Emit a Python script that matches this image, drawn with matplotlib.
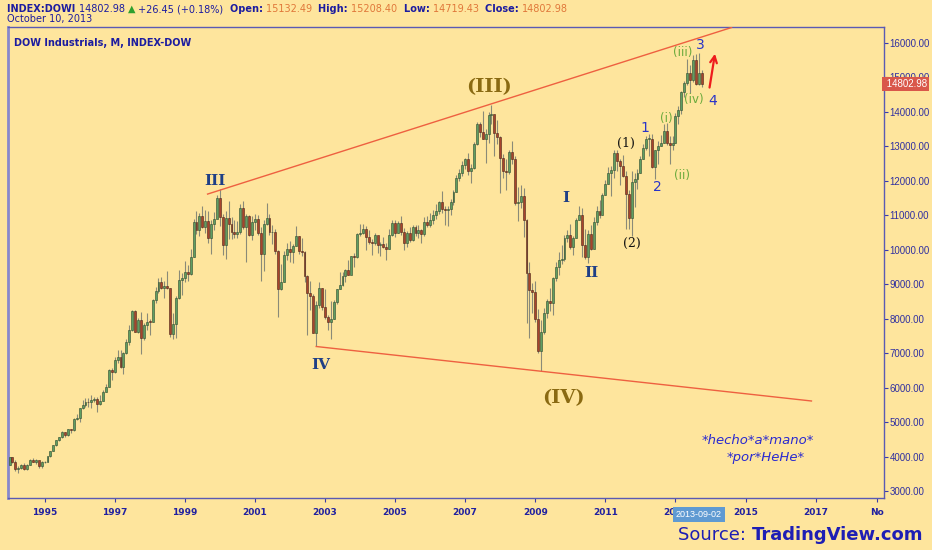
import numpy as np
import matplotlib
matplotlib.use("Agg")
import matplotlib.pyplot as plt

# Monthly DOW candles, Jan 1994 .. Oct 2013
FIRST_OPEN = 3754
LAST_OPEN = 15132.49
closes = [
    3978, 3832, 3636, 3681, 3758, 3625, 3765, 3913, 3843, 3908, 3739, 3834,
    3843, 4011, 4158, 4321, 4465, 4556, 4708, 4610, 4789, 4756, 5075, 5117,
    5395, 5486, 5587, 5569, 5643, 5655, 5529, 5616, 5882, 6029, 6522, 6448,
    6813, 6878, 6584, 7009, 7331, 7673, 8223, 7622, 7945, 7442, 7823, 7908,
    7907, 8546, 8800, 9063, 8900, 8952, 8883, 7539, 7843, 8592, 9117, 9181,
    9359, 9307, 9786, 10789, 10560, 10971, 10655, 10829, 10337, 10729, 10878, 11497,
    10941, 10128, 10922, 10734, 10522, 10448, 10522, 11215, 10651, 10971, 10415, 10787,
    10887, 10495, 9879, 10735, 10912, 10502, 10523, 9950, 8848, 9075, 9852, 10022,
    9920, 10106, 10404, 9946, 9925, 9243, 8737, 8664, 7592, 8397, 8896, 8342,
    8054, 7891, 7992, 8480, 8850, 8985, 9234, 9416, 9275, 9801, 9782, 10454,
    10488, 10584, 10358, 10226, 10188, 10435, 10140, 10174, 10080, 10027, 10428, 10783,
    10490, 10766, 10504, 10193, 10467, 10275, 10641, 10482, 10569, 10440, 10806, 10718,
    10865, 10993, 11109, 11367, 11168, 11150, 11186, 11381, 11679, 12081, 12222, 12463,
    12622, 12269, 12354, 13063, 13628, 13409, 13212, 13358, 13896, 13930, 13372, 13265,
    12650, 12266, 12263, 12820, 12638, 11350, 11378, 11544, 10851, 9325, 8829, 8776,
    8001, 7063, 7609, 8168, 8500, 8447, 9172, 9496, 9712, 9713, 10345, 10428,
    10067, 10325, 10857, 11009, 10137, 9774, 10466, 10015, 10788, 11118, 11006, 11578,
    11892, 12226, 12320, 12811, 12570, 12414, 12143, 11614, 10913, 11955, 12046, 12218,
    12633, 12952, 13212, 13214, 12393, 12880, 13009, 13091, 13437, 13096, 13026, 13104,
    13861, 14054, 14579, 14840, 15116, 14910, 15500, 14810, 15130, 14803,
]
highs = [
    3990, 3980, 3900, 3720, 3770, 3800, 3770, 3920, 3960, 3940, 3880, 3860,
    3880, 4020, 4170, 4330, 4470, 4580, 4730, 4720, 4800, 4800, 5110, 5220,
    5400, 5640, 5690, 5690, 5780, 5730, 5730, 5780, 5920, 6100, 6550, 6580,
    6880, 7080, 7100, 7030, 7400, 7800, 8260, 8260, 8020, 8180, 7880, 8150,
    7980, 8580, 8930, 9190, 9210, 9080, 9370, 8880, 8160, 8650, 9400, 9320,
    9670, 9550, 10010, 10880, 11110, 11070, 11250, 11150, 11130, 10850, 11090, 11570,
    11750, 11040, 11130, 11420, 10940, 10860, 10840, 11330, 11400, 11020, 11000, 10980,
    11020, 11000, 10650, 10860, 11350, 11020, 10700, 10600, 10000, 9580, 9960, 10200,
    10260, 10160, 10670, 10400, 10350, 9960, 9260, 9080, 8700, 8520, 9050, 8900,
    8870, 8110, 8520, 8530, 8870, 9350, 9340, 9430, 9690, 9820, 9890, 10480,
    10750, 10750, 10680, 10570, 10320, 10480, 10350, 10230, 10370, 10180, 10600, 10870,
    10870, 10840, 10960, 10620, 10530, 10650, 10700, 10720, 10700, 10590, 10940, 10960,
    11050, 11140, 11330, 11420, 11710, 11250, 11250, 11470, 11730, 12160, 12350, 12580,
    12660, 12800, 12470, 13120, 13690, 13700, 14020, 13500, 14000, 14200, 13900, 13750,
    13280, 12770, 12620, 12900, 13140, 12700, 11810, 11870, 11790, 10880, 9650, 9030,
    9090, 8280, 7950, 8300, 8580, 8880, 9200, 9630, 9920, 10120, 10410, 10580,
    10730, 10400, 10910, 11260, 11210, 10600, 10580, 10720, 10950, 11250, 11450, 11650,
    12020, 12400, 12420, 12900, 12880, 12640, 12750, 12280, 11720, 12280, 12230, 12330,
    12720, 13050, 13290, 13340, 13340, 12900, 13150, 13330, 13650, 13660, 13290, 13290,
    13970, 14150, 14590, 14890, 15540, 15340, 15640, 15660, 15710, 15208,
]
lows = [
    3750, 3800, 3590, 3520, 3630, 3610, 3610, 3740, 3830, 3780, 3670, 3680,
    3800, 3830, 3980, 4150, 4300, 4440, 4550, 4570, 4600, 4680, 4740, 5050,
    5000, 5370, 5440, 5450, 5420, 5570, 5300, 5500, 5600, 5880, 6010, 6220,
    6420, 6720, 6560, 6390, 6980, 7230, 7640, 7600, 7580, 6970, 7380, 7660,
    7530, 7890, 8450, 8740, 8850, 8600, 8850, 7480, 7400, 7450, 8560, 8690,
    9060, 9100, 9250, 9780, 10440, 10400, 10640, 10480, 10200, 9880, 10580, 10940,
    10680, 9830, 9730, 10300, 10300, 10340, 10350, 10460, 10600, 9650, 10380, 10280,
    10570, 10430, 9100, 9390, 10700, 10420, 10170, 9880, 8060, 8830, 9060, 9700,
    9640, 9610, 10090, 9860, 9800, 9070, 7530, 8250, 7580, 7200, 8300, 8240,
    7990, 7670, 7420, 7990, 8430, 8850, 8940, 9070, 9260, 9370, 9500, 9750,
    10400, 10460, 10000, 10170, 9850, 10120, 9900, 9800, 10050, 9710, 10010, 10380,
    10370, 10480, 10420, 10000, 10080, 10230, 10250, 10400, 10350, 10200, 10400, 10650,
    10660, 10740, 10900, 11020, 11060, 10700, 10680, 10990, 11280, 11660, 11980, 12140,
    12340, 12170, 11940, 12350, 13040, 13260, 13200, 12520, 13080, 13640, 12720, 13050,
    11630, 12070, 11730, 12200, 12480, 11280, 10830, 11220, 10370, 7880, 7450, 8150,
    7910, 7010, 6470, 7550, 8020, 8220, 8090, 9080, 9250, 9590, 9680, 10220,
    10030, 9840, 10330, 10850, 9780, 9720, 9610, 9990, 10010, 10710, 10930, 10990,
    11570, 11890, 11550, 12090, 12280, 11860, 12110, 10600, 10600, 10400, 11230, 11760,
    12210, 12640, 12880, 12710, 12380, 12040, 12490, 12990, 13080, 13020, 12470, 12880,
    13100, 13650, 13940, 14430, 14760, 14550, 14860, 14760, 14780, 14719,
]
START_YEAR = 1994

x_ticks = [1995, 1997, 1999, 2001, 2003, 2005, 2007, 2009, 2011, 2013, 2015, 2017, 2018.75]
x_tick_labels = ["1995", "1997", "1999", "2001", "2003", "2005", "2007", "2009",
                 "2011", "2013", "2015", "2017", "No"]
y_ticks = [3000, 4000, 5000, 6000, 7000, 8000, 9000, 10000, 11000, 12000,
           13000, 14000, 15000, 16000]

# trend lines (start / end points)
upper_line = ([1999.65, 2014.6], [11610, 16440])
lower_line = ([2002.75, 2016.88], [7190, 5610])

# wave labels: text, x, y, style
wave_labels = [
    ("III", 1999.86, 11990, "major"), ("IV", 2002.89, 6650, "major"),
    ("(III)", 2007.68, 14715, "cycle"), ("(IV)", 2009.79, 5690, "cycle"),
    ("I", 2009.88, 11500, "major"), ("II", 2010.59, 9320, "major"),
    ("(1)", 2011.59, 13090, "inter"), ("(2)", 2011.76, 10190, "inter"),
    ("1", 2012.13, 13530, "minor"), ("2", 2012.47, 11815, "minor"),
    ("3", 2013.70, 15935, "minor"), ("4", 2014.07, 14310, "minor"),
    ("(i)", 2012.73, 13790, "minute"), ("(ii)", 2013.19, 12135, "minute"),
    ("(iii)", 2013.21, 15730, "minute"), ("(iv)", 2013.53, 14340, "minute"),
]

BG = "#fee59d"
NAVY = "#1c1ca0"
ORANGE = "#e0783a"

closes = np.array(closes, dtype=float)
highs = np.array(highs, dtype=float)
lows = np.array(lows, dtype=float)
opens = np.concatenate([[FIRST_OPEN], closes[:-1]])
opens[-1] = LAST_OPEN
xs = START_YEAR + np.arange(len(closes)) / 12.0

fig = plt.figure(figsize=(9.32, 5.5), dpi=100, facecolor=BG)
ax = fig.add_axes([8 / 932, 1 - 498 / 550, 876 / 932, 471 / 550])
ax.set_facecolor(BG)

# candles
up = closes >= opens
ax.vlines(xs, lows, highs, color="#8a8a78", lw=0.8, zorder=2)
body_bottom = np.minimum(opens, closes)
body_h = np.maximum(np.abs(closes - opens), 15)
ax.bar(xs[up], body_h[up], bottom=body_bottom[up], width=0.055,
       color="#5f9e62", edgecolor="#2e4a2e", lw=0.4, zorder=3)
ax.bar(xs[~up], body_h[~up], bottom=body_bottom[~up], width=0.055,
       color="#a8442c", edgecolor="#4a2418", lw=0.4, zorder=3)

ax.plot(*upper_line, color="#ee6040", lw=1, zorder=4)
ax.plot(*lower_line, color="#ee6040", lw=1, zorder=4)

styles = {
    "major": dict(color="#1f3f86", fontsize=11, fontweight="bold", family="DejaVu Serif"),
    "cycle": dict(color="#8a6a12", fontsize=14, fontweight="bold", family="DejaVu Serif"),
    "inter": dict(color="#111111", fontsize=9, family="DejaVu Serif"),
    "minor": dict(color="#2a34c8", fontsize=10, family="DejaVu Sans"),
    "minute": dict(color="#6aaa3c", fontsize=8.5, family="DejaVu Sans"),
}
for txt, lx, ly, st in wave_labels:
    ax.text(lx, ly, txt, ha="center", va="center", zorder=5, **styles[st])

ax.annotate("", xy=(2014.14, 15760), xytext=(2013.96, 14620),
            arrowprops=dict(arrowstyle="->", color="#ee1c1c", lw=1.6,
                            mutation_scale=12), zorder=6)

ax.text(2015.35, 4450, "*hecho*a*mano*", color="#2a2ad0", fontsize=9.5,
        style="italic", ha="center", va="center")
ax.text(2015.58, 3985, "*por*HeHe*", color="#2a2ad0", fontsize=9.5,
        style="italic", ha="center", va="center")

ax.text(0.007, 0.965, "DOW Industrials, M, INDEX-DOW", transform=ax.transAxes,
        color=NAVY, fontsize=7, fontweight="bold", ha="left", va="center")

ax.set_xlim(1993.956, 2018.95)
ax.set_ylim(2797, 16455)
ax.yaxis.tick_right()
ax.set_yticks(y_ticks)
ax.set_yticklabels([f"{v:.2f}" for v in y_ticks])
ax.set_xticks(x_ticks)
ax.set_xticklabels(x_tick_labels)
ax.tick_params(axis="y", colors="#3a3aa8", labelsize=7, length=3, width=0.8, pad=1)
ax.tick_params(axis="x", colors="#3a3aa8", labelsize=6.5, length=3, width=0.8, pad=4)
for lab in ax.get_xticklabels():
    lab.set_fontweight("bold")
    lab.set_color("#2020a0")
for lab in ax.get_yticklabels():
    lab.set_color("#3030a0")
    lab.set_family("Liberation Sans")
for side in ["left", "right", "top", "bottom"]:
    ax.spines[side].set_color("#5a5ab4")
    ax.spines[side].set_linewidth(1)
ax.spines["left"].set_color("#8888cc")
ax.spines["left"].set_linewidth(2)

# last price tag and crosshair date tag
ax.text(1.0, closes[-1], " 14802.98", transform=ax.get_yaxis_transform(),
        color="white", fontsize=7, family="Liberation Sans", ha="left", va="center",
        zorder=10, clip_on=False,
        bbox=dict(boxstyle="square,pad=0.2", fc="#d9574a", ec="none"))
ax.text(2013.67, -0.035, "2013-09-02", transform=ax.get_xaxis_transform(),
        color="white", fontsize=6.5, family="Liberation Sans", ha="center",
        va="center", zorder=10, clip_on=False,
        bbox=dict(boxstyle="square,pad=0.3", fc="#5f9ad2", ec="none"))

# header line with quote
pieces = [
    ("INDEX:DOWI ", NAVY, "bold"), ("14802.98 ", NAVY, "normal"),
    ("\u25b2", "#2ea02e", "normal"), (" +26.45 (+0.18%)  ", NAVY, "normal"),
    ("Open: ", NAVY, "bold"), ("15132.49  ", ORANGE, "normal"),
    ("High: ", NAVY, "bold"), ("15208.40  ", ORANGE, "normal"),
    ("Low: ", NAVY, "bold"), ("14719.43  ", ORANGE, "normal"),
    ("Close: ", NAVY, "bold"), ("14802.98", ORANGE, "normal"),
]
HFS = 7
prev = fig.text(7 / 932, 1 - 12 / 550, pieces[0][0], color=pieces[0][1],
                fontweight=pieces[0][2], fontsize=HFS, ha="left", va="baseline")
for txt, col, fw in pieces[1:]:
    prev = ax.annotate(txt, xy=(1, 0), xycoords=prev, xytext=(0, 0),
                       textcoords="offset points", color=col, fontweight=fw,
                       fontsize=HFS, ha="left", va="bottom", annotation_clip=False)
fig.text(7 / 932, 1 - 22 / 550, "October 10, 2013", color=NAVY, fontsize=HFS,
         ha="left", va="baseline")

src = fig.text(678 / 932, 1 - 540 / 550, "Source: ", color="#1e1eb4", fontsize=13,
               ha="left", va="baseline", family="DejaVu Sans Condensed")
ax.annotate("TradingView.com", xy=(1, 0), xycoords=src, xytext=(0, 0),
            textcoords="offset points", color="#1e1eb4", fontsize=13,
            fontweight="bold", ha="left", va="bottom", annotation_clip=False,
            family="DejaVu Sans Condensed")

fig.savefig("out.png", dpi=100, facecolor=BG)
